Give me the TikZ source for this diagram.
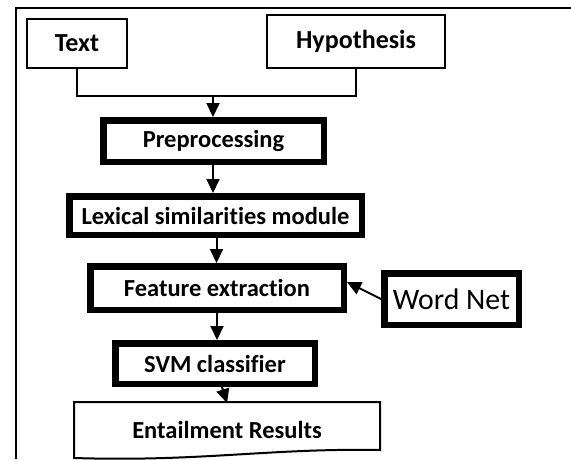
\documentclass[tikz,border=0pt]{standalone}
\usepackage{fontspec}
\setmainfont[Ligatures={NoCommon}]{Carlito}
\usetikzlibrary{arrows.meta}
\begin{document}
\begin{tikzpicture}[x=1pt,y=-1pt,
  thinbox/.style={draw,line width=2pt,inner sep=0pt,font=\fontsize{26}{31}\selectfont\bfseries},
  thickbox/.style={draw,line width=6.5pt,inner sep=0pt,font=\fontsize{24.5}{29}\selectfont\bfseries},
  wnbox/.style={draw,line width=6.5pt,inner sep=0pt,font=\fontsize{29.8}{35}\selectfont},
  conn/.style={line width=2pt},
  arr/.style={line width=2pt,-{Triangle[width=13pt,length=14pt]}}]
\useasboundingbox (0,0) rectangle (571,459);
% outer frame
\draw[line width=2pt] (571,8) -- (15.5,8) -- (15.5,459);
% nodes
\node[thinbox,minimum width=100pt,minimum height=49pt] (txt) at (77,43.5) {Text};
\node[thinbox,minimum width=178pt,minimum height=53pt] (hyp) at (356,41.5) {Hypothesis};
\node[thickbox,minimum width=220.5pt,minimum height=41.5pt] (pre) at (213.5,141) {Preprocessing};
\node[thickbox,minimum width=292.5pt,minimum height=38.5pt] (lex) at (215.5,215.5) {Lexical similarities module};
\node[thickbox,minimum width=253.5pt,minimum height=43.5pt] (fea) at (217,288) {Feature extraction};
\node[wnbox,minimum width=134.5pt,minimum height=51.5pt] (wn) at (451.5,299) {Word Net};
\node[thickbox,minimum width=199.5pt,minimum height=40.5pt] (svm) at (215,363.5) {SVM classifier};
% document shape
\draw[line width=2pt] (74,402) -- (380,402) -- (380,450)
  .. controls (270,448) and (200,462) .. (74,458) -- cycle;
\node[font=\fontsize{24.5}{29}\selectfont\bfseries] (ent) at (227,430) {Entailment Results};
\coordinate (entTop) at (227,403);
% connectors
\coordinate (join) at (213,96);
\draw[conn] (txt.south) |- (join) -| (hyp.south);
\draw[arr] (join) -- (pre.north -| join);
\draw[arr] (pre.south -| join) -- (lex.north -| join);
\draw[arr] ([xshift=1pt]lex.south) -- ([xshift=1pt]lex.south |- fea.north);
\draw[arr] (fea.south) -- (fea.south |- svm.north);
\draw[arr] ([xshift=7pt]svm.south) -- (entTop);
\draw[arr] (wn.west) -- ([yshift=6pt]fea.east);
\end{tikzpicture}
\end{document}
